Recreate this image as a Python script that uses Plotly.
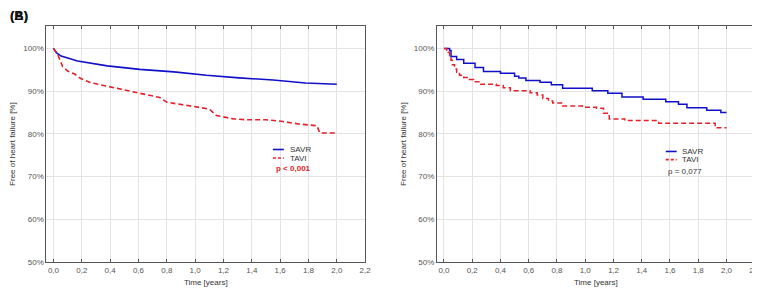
import plotly.graph_objects as go

# ---------------- data ----------------
x_tickvals = [0, 0.2, 0.4, 0.6, 0.8, 1.0, 1.2, 1.4, 1.6, 1.8, 2.0, 2.2]
x_ticktext = ["0,0", "0,2", "0,4", "0,6", "0,8", "1,0", "1,2", "1,4", "1,6", "1,8", "2,0", "2,2"]
y_tickvals = [50, 60, 70, 80, 90, 100]
y_ticktext = ["50%", "60%", "70%", "80%", "90%", "100%"]

left_savr_t = [0, 0.02, 0.054, 0.10, 0.17, 0.38, 0.61, 0.85, 1.08, 1.31, 1.55, 1.78, 2.0]
left_savr_s = [100, 99.0, 98.2, 97.7, 97.05, 95.9, 95.1, 94.5, 93.7, 93.1, 92.6, 91.9, 91.6]

left_tavi_t = [0, 0.03, 0.065, 0.10, 0.15, 0.19, 0.26, 0.38, 0.50, 0.61, 0.75, 0.80, 0.89,
               0.99, 1.10, 1.15, 1.27, 1.36, 1.50, 1.62, 1.73, 1.86, 1.88, 2.0]
left_tavi_s = [100, 98.6, 95.7, 94.7, 94.0, 93.0, 92.0, 91.1, 90.2, 89.5, 88.5, 87.4, 87.0,
               86.4, 85.8, 84.3, 83.5, 83.3, 83.3, 82.9, 82.3, 81.9, 80.2, 80.2]

right_savr_t = [0, 0.04, 0.05, 0.09, 0.14, 0.22, 0.28, 0.40, 0.50, 0.53, 0.58, 0.68, 0.76,
                0.84, 1.05, 1.16, 1.26, 1.41, 1.57, 1.66, 1.72, 1.86, 1.96, 2.0]
right_savr_s = [100, 99.5, 98.1, 97.4, 96.5, 95.5, 94.6, 94.2, 93.5, 93.1, 92.5, 92.1, 91.5,
                90.7, 90.1, 89.5, 88.6, 88.1, 87.5, 86.9, 86.1, 85.5, 85.0, 85.0]

right_tavi_t = [0, 0.02, 0.03, 0.04, 0.05, 0.06, 0.075, 0.09, 0.11, 0.14, 0.17, 0.21, 0.26,
                0.37, 0.42, 0.47, 0.61, 0.66, 0.70, 0.74, 0.77, 0.84, 0.98, 1.08, 1.13, 1.17,
                1.28, 1.47, 1.52, 1.89, 1.92, 2.0]
right_tavi_s = [100, 99.5, 99.1, 98.3, 97.2, 96.2, 95.2, 94.4, 93.7, 93.2, 92.7, 92.2, 91.6,
                91.3, 90.8, 90.1, 89.6, 89.1, 88.3, 87.7, 87.2, 86.5, 86.2, 86.0, 84.8, 83.5,
                83.1, 83.1, 82.5, 82.5, 81.4, 81.4]

series_names = ["SAVR", "TAVI"]
p_left = "p < 0,001"
p_right = "p = 0,077"

# ---------------- styling ----------------
W, H = 760, 288
BLUE = "#1010C8"
RED = "#E5202A"
FONT = "Liberation Sans, Arial, sans-serif"
TICKC = "#555555"
FRAME = "#555555"
GRID = "#e3e3e3"
DASH = "5px,3px"

def px(x):
    return x / W

def py(y):
    return 1 - y / H

fig = go.Figure()

fig.add_trace(go.Scatter(x=left_savr_t, y=left_savr_s, mode="lines", name=series_names[0],
                         line=dict(color=BLUE, width=1.6), xaxis="x", yaxis="y", showlegend=False))
fig.add_trace(go.Scatter(x=left_tavi_t, y=left_tavi_s, mode="lines", name=series_names[1],
                         line=dict(color=RED, width=1.6, dash=DASH), xaxis="x", yaxis="y",
                         showlegend=False))
fig.add_trace(go.Scatter(x=right_savr_t, y=right_savr_s, mode="lines", name=series_names[0],
                         line=dict(color=BLUE, width=1.5, shape="hv"), xaxis="x2", yaxis="y2",
                         showlegend=False))
fig.add_trace(go.Scatter(x=right_tavi_t, y=right_tavi_s, mode="lines", name=series_names[1],
                         line=dict(color=RED, width=1.5, dash=DASH, shape="hv"),
                         xaxis="x2", yaxis="y2", showlegend=False))

ydom = [py(258.5), py(18.5)]
xdom_l = [px(38.7), px(360)]
xdom_r = [px(432.3), px(752.7)]

xcommon = dict(range=[-0.05, 2.2], tickvals=x_tickvals, ticktext=x_ticktext,
               showgrid=True, gridcolor=GRID, gridwidth=1, zeroline=False,
               showline=True, linecolor=FRAME, linewidth=1, mirror="allticks",
               ticks="inside", ticklen=3, tickcolor=FRAME,
               tickfont=dict(size=8, color=TICKC, family=FONT),
               title=dict(text="Time [years]", font=dict(size=8, color="#333", family=FONT), standoff=5))
ycommon = dict(range=[50, 105.2], tickvals=y_tickvals, ticktext=y_ticktext,
               showgrid=True, gridcolor=GRID, gridwidth=1, zeroline=False,
               showline=True, linecolor=FRAME, linewidth=1, mirror=True,
               ticks="", tickfont=dict(size=8, color=TICKC, family=FONT),
               title=dict(text="Free of heart failure [%]", font=dict(size=8, color="#333", family=FONT),
                          standoff=6),
               domain=ydom)

# right-side minor tick scales (decorative)
rticks = list(range(0, 14))
rcommon = dict(range=[-0.05, 13.55], tickvals=rticks, showticklabels=False, showgrid=False,
               zeroline=False, ticks="outside", ticklen=2, tickcolor=FRAME, side="right",
               showline=False)

fig.update_layout(
    width=W, height=H, autosize=False,
    margin=dict(l=0, r=0, t=0, b=0),
    paper_bgcolor="white", plot_bgcolor="white",
    font=dict(family=FONT, size=8, color="#333"),
    xaxis=dict(domain=xdom_l, anchor="y", **xcommon),
    yaxis=dict(anchor="x", **ycommon),
    xaxis2=dict(domain=xdom_r, anchor="y2", **xcommon),
    yaxis2=dict(anchor="x2", **ycommon),
    yaxis3=dict(overlaying="y", anchor="x", **rcommon),
    yaxis4=dict(overlaying="y2", anchor="x2", **rcommon),
)

# manual legends
shapes = []
annotations = []
legends = [
    dict(x0=267, x1=278, ys=[144, 152.7], xt=282, p=p_left, py_=163.3, px_=268,
         pcolor="#E01B24", pbold=True),
    dict(x0=663, x1=674, ys=[146, 154.3], xt=677.7, p=p_right, py_=166.7, px_=663,
         pcolor="#333333", pbold=False),
]
for lg in legends:
    for i, (name, col) in enumerate(zip(series_names, [BLUE, RED])):
        shapes.append(dict(type="line", xref="paper", yref="paper",
                           x0=px(lg["x0"]), x1=px(lg["x1"]), y0=py(lg["ys"][i]), y1=py(lg["ys"][i]),
                           line=dict(color=col, width=1.6, dash="solid" if i == 0 else "3px,2px")))
        annotations.append(dict(xref="paper", yref="paper", x=px(lg["xt"]), y=py(lg["ys"][i]),
                                text=name, showarrow=False, xanchor="left", yanchor="middle",
                                font=dict(size=8, color="#333", family=FONT)))
    txt = "<b>%s</b>" % lg["p"] if lg["pbold"] else lg["p"]
    annotations.append(dict(xref="paper", yref="paper", x=px(lg["px_"]), y=py(lg["py_"]),
                            text=txt, showarrow=False, xanchor="left", yanchor="middle",
                            font=dict(size=8, color=lg["pcolor"], family=FONT)))

# panel label (overlapping A/B as in the source)
for lab in ["(A)", "(B)"]:
    annotations.append(dict(xref="paper", yref="paper", x=px(0), y=py(8), text="<b>%s</b>" % lab,
                            showarrow=False, xanchor="left", yanchor="middle",
                            font=dict(size=13, color="#111", family=FONT)))

fig.update_layout(shapes=shapes, annotations=annotations)

fig.write_html("out.html")
